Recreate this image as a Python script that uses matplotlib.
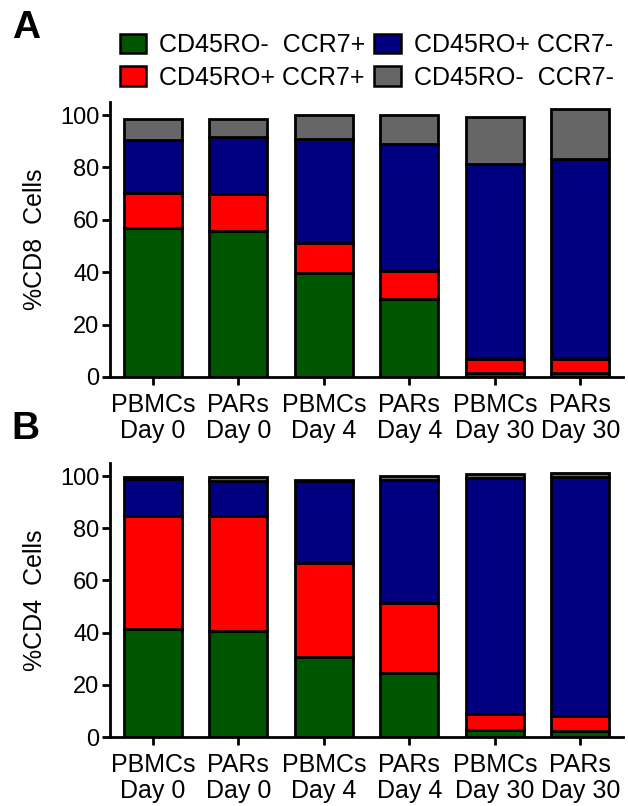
import matplotlib
matplotlib.use("Agg")
import matplotlib.pyplot as plt
from matplotlib.patches import Patch
import numpy as np

plt.rcParams['font.family'] = ['Liberation Sans', 'DejaVu Sans']

groups = ["PBMCs\nDay 0", "PARs\nDay 0", "PBMCs\nDay 4", "PARs\nDay 4", "PBMCs\nDay 30", "PARs\nDay 30"]
series_names = ["CD45RO-  CCR7+", "CD45RO+ CCR7+", "CD45RO+ CCR7-", "CD45RO-  CCR7-"]
colors = ["#005500", "#ff0000", "#000080", "#666666"]

# CD8 subsets (%)
cd8_ro_neg_ccr7_pos = [56.7, 55.7, 39.7, 29.6, 1.5, 1.7]
cd8_ro_pos_ccr7_pos = [13.4, 14.1, 11.6, 10.9, 5.5, 5.3]
cd8_ro_pos_ccr7_neg = [20.3, 21.7, 39.4, 48.4, 74.5, 76.2]
cd8_ro_neg_ccr7_neg = [8.1, 7.0, 9.2, 11.0, 17.9, 19.0]

# CD4 subsets (%)
cd4_ro_neg_ccr7_pos = [41.5, 40.8, 30.5, 24.6, 2.8, 2.2]
cd4_ro_pos_ccr7_pos = [43.1, 43.8, 36.2, 26.9, 6.2, 6.0]
cd4_ro_pos_ccr7_neg = [14.1, 13.5, 31.4, 47.0, 90.4, 91.4]
cd4_ro_neg_ccr7_neg = [0.9, 1.5, 0.4, 1.5, 1.5, 1.7]

yticks = [0, 20, 40, 60, 80, 100]

fig = plt.figure(figsize=(6.28, 8.06), dpi=100)
axA = fig.add_axes([0.1752, 0.5323, 0.8169, 0.3412])
axB = fig.add_axes([0.1752, 0.0856, 0.8169, 0.3400])

def draw(ax, layers, ylabel):
    x = np.arange(len(groups))
    bottom = np.zeros(len(groups))
    for vals, c in zip(layers, colors):
        vals = np.array(vals)
        ax.bar(x, vals, bottom=bottom, width=0.68, color=c, edgecolor="black", linewidth=2.0, zorder=2)
        bottom += vals
    ax.set_xlim(-0.5, 5.5)
    ax.set_ylim(0, 105)
    ax.set_yticks(yticks)
    ax.set_yticklabels([str(v) for v in yticks], fontsize=17)
    ax.set_xticks(x)
    ax.set_xticklabels(groups, fontsize=18, linespacing=1.12)
    ax.set_ylabel(ylabel, fontsize=18)
    ax.yaxis.set_label_coords(-0.123, 0.5)
    for s in ["top", "right"]:
        ax.spines[s].set_visible(False)
    for s in ["left", "bottom"]:
        ax.spines[s].set_linewidth(2.0)
    ax.tick_params(axis="both", direction="out", width=2.0, length=5.5)
    ax.tick_params(axis="y", pad=2)
    ax.tick_params(axis="x", pad=6)

draw(axA, [cd8_ro_neg_ccr7_pos, cd8_ro_pos_ccr7_pos, cd8_ro_pos_ccr7_neg, cd8_ro_neg_ccr7_neg], "%CD8  Cells")
draw(axB, [cd4_ro_neg_ccr7_pos, cd4_ro_pos_ccr7_pos, cd4_ro_pos_ccr7_neg, cd4_ro_neg_ccr7_neg], "%CD4  Cells")

handles = [Patch(facecolor=c, edgecolor="black", linewidth=1.8) for c in colors]
fig.legend(handles, series_names, ncol=2, loc="center", bbox_to_anchor=(0.584, 0.924),
           frameon=False, fontsize=18, handlelength=1.05, handleheight=0.8,
           handletextpad=0.52, columnspacing=0.35, labelspacing=0.35, borderaxespad=0,
           borderpad=0)

fig.text(0.041, 0.965, "A", fontsize=28, fontweight="bold", va="center", ha="center")
fig.text(0.040, 0.468, "B", fontsize=28, fontweight="bold", va="center", ha="center")

fig.savefig("out.png", dpi=100)
